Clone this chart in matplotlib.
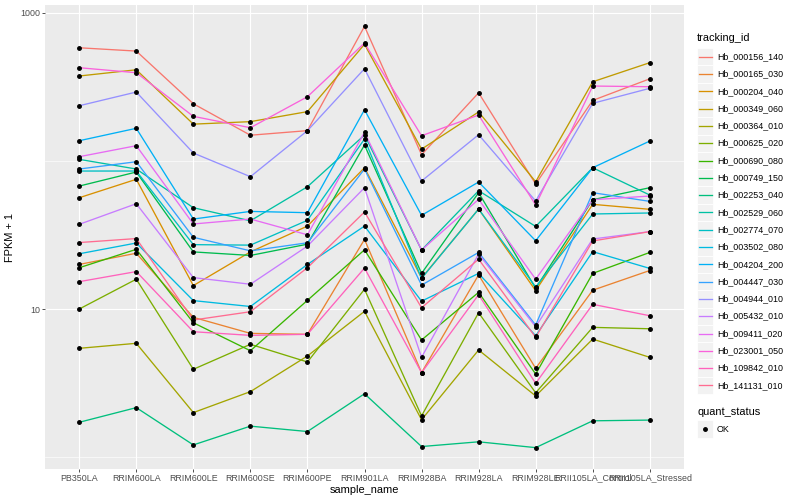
import numpy as np
import matplotlib
matplotlib.use("Agg")
import matplotlib.pyplot as plt
from matplotlib.patches import Rectangle
from matplotlib.lines import Line2D

plt.rcParams["font.family"] = ["Liberation Sans", "DejaVu Sans"]

# Muestras (eje x)
sample_names = ["PB350LA", "RRIM600LA", "RRIM600LE", "RRIM600SE", "RRIM600PE",
                "RRIM901LA", "RRIM928BA", "RRIM928LA", "RRIM928LE",
                "RRII105LA_Control", "RRII105LA_Stressed"]

tracking_ids = ["Hb_000156_140", "Hb_000165_030", "Hb_000204_040", "Hb_000349_060",
                "Hb_000364_010", "Hb_000625_020", "Hb_000690_080", "Hb_000749_150",
                "Hb_002253_040", "Hb_002529_060", "Hb_002774_070", "Hb_003502_080",
                "Hb_004204_200", "Hb_004447_030", "Hb_004944_010", "Hb_005432_010",
                "Hb_009411_020", "Hb_023001_050", "Hb_109842_010", "Hb_141131_010"]

# Paleta de ggplot (hue_pal) para 20 niveles
colores = ["#F8766D", "#EA8331", "#D89000", "#C09B00", "#A3A500", "#7CAE00",
           "#39B600", "#00BB4E", "#00BF7D", "#00C1A3", "#00BFC4", "#00BAE0",
           "#00B0F6", "#35A2FF", "#9590FF", "#C77CFF", "#E76BF3", "#FA62DB",
           "#FF62BC", "#FF6C91"]

# Valores FPKM + 1
hb_000156_140 = [580, 551, 243, 149, 160, 809, 110, 288, 69.8, 256, 358]
hb_000165_030 = [20.0, 23.8, 8.79, 6.85, 6.75, 29.5, 3.72, 17.0, 3.98, 13.4, 18.2]
hb_000204_040 = [56.4, 75.1, 14.4, 24.3, 36.3, 89.9, 16.2, 47.3, 13.3, 50.9, 47.1]
hb_000349_060 = [374, 412, 177, 184, 215, 612, 120, 214, 72.3, 342, 460]
hb_000364_010 = [5.43, 5.87, 2.00, 2.77, 4.82, 9.65, 1.79, 5.29, 2.59, 6.27, 4.72]
hb_000625_020 = [10.0, 15.9, 3.92, 5.78, 4.39, 13.6, 1.90, 9.44, 2.72, 7.52, 7.36]
hb_000690_080 = [19.0, 25.3, 8.08, 5.23, 11.45, 25.1, 6.18, 12.96, 3.64, 17.4, 24.1]
hb_000749_150 = [67.6, 84.1, 24.3, 23.0, 27.4, 128, 17.4, 61.0, 13.8, 54.7, 65.9]
hb_002253_040 = [1.72, 2.16, 1.21, 1.62, 1.49, 2.68, 1.18, 1.27, 1.16, 1.76, 1.78]
hb_002529_060 = [102.4, 88.1, 48.3, 39.4, 66.9, 149.5, 25.0, 62.9, 36.1, 89.9, 58.8]
hb_002774_070 = [85.4, 85.4, 27.2, 27.0, 39.7, 140.4, 16.1, 47.3, 14.1, 43.8, 44.5]
hb_003502_080 = [23.6, 27.9, 11.4, 10.4, 20.0, 36.3, 11.3, 17.4, 6.60, 24.4, 18.8]
hb_004204_200 = [136.8, 165.9, 40.5, 45.6, 44.7, 221.4, 42.9, 72.0, 28.9, 89.9, 136.1]
hb_004447_030 = [88.1, 98.7, 30.5, 24.7, 28.0, 88.1, 14.5, 24.1, 7.80, 61.0, 53.3]
hb_004944_010 = [235.6, 291.5, 113, 78.2, 160, 418.8, 73.1, 150.2, 53.6, 244.6, 308.8]
hb_005432_010 = [37.3, 51.4, 16.3, 14.7, 26.6, 65.9, 4.72, 23.5, 7.60, 29.7, 33.3]
hb_009411_020 = [106.7, 126.6, 37.5, 40.5, 31.7, 155.8, 25.0, 55.0, 15.9, 54.7, 57.9]
hb_023001_050 = [425.5, 393.6, 199.8, 167.4, 271, 624.4, 147.8, 203.9, 50.4, 320, 316.6]
hb_109842_010 = [15.3, 17.9, 7.03, 6.64, 6.75, 18.9, 3.72, 12.5, 3.15, 10.76, 9.01]
hb_141131_010 = [28.1, 29.9, 8.43, 9.59, 19.0, 45.2, 10.2, 21.7, 6.44, 28.8, 33.3]

series = [hb_000156_140, hb_000165_030, hb_000204_040, hb_000349_060, hb_000364_010,
          hb_000625_020, hb_000690_080, hb_000749_150, hb_002253_040, hb_002529_060,
          hb_002774_070, hb_003502_080, hb_004204_200, hb_004447_030, hb_004944_010,
          hb_005432_010, hb_009411_020, hb_023001_050, hb_109842_010, hb_141131_010]

W, H = 800, 500
fig = plt.figure(figsize=(8, 5), dpi=100)
fig.patch.set_facecolor("white")


def fx(px):
    return px / W


def fy(py):
    return 1 - py / H


ax = fig.add_axes([fx(45), fy(468.7), (684 - 45) / W, (468.7 - 5.3) / H])
ax.set_facecolor("#EBEBEB")
for s in ax.spines.values():
    s.set_visible(False)

x = np.arange(len(sample_names))

# Lineas de cada gen
for valores, color in zip(series, colores):
    ax.plot(x, valores, color=color, lw=0.95, zorder=3)

# Puntos encima
for valores in series:
    ax.plot(x, valores, linestyle="none", marker="o", markersize=2.5,
            color="black", zorder=4)

ax.set_yscale("log")
todos = np.log10(np.concatenate([np.array(v, dtype=float) for v in series]))
lo, hi = todos.min(), todos.max()
pad = (hi - lo) * 0.05
ax.set_ylim(10 ** (lo - pad), 10 ** (hi + pad))
ax.set_xlim(-0.6, len(sample_names) - 0.4)

ax.set_yticks([10, 1000])
ax.set_yticklabels(["10", "1000"])
ax.set_yticks([1, 100], minor=True)
ax.yaxis.set_minor_formatter(plt.NullFormatter())
ax.set_xticks(x)
ax.set_xticklabels(sample_names)

ax.grid(True, which="major", color="white", lw=0.85, zorder=0)
ax.grid(True, which="minor", axis="y", color="white", lw=0.45, zorder=0)
ax.set_axisbelow(True)
ax.tick_params(axis="both", which="major", length=2.0, width=0.6, color="#333333",
               labelsize=6.4, labelcolor="#4D4D4D", pad=1.5)
ax.tick_params(axis="y", which="minor", length=0)

ax.set_xlabel("sample_name", fontsize=7.9, labelpad=2)
ax.set_ylabel("FPKM + 1", fontsize=7.9, labelpad=4)

# Leyenda tracking_id
fig.text(fx(697), fy(38), "tracking_id", fontsize=7.9, va="center", ha="left")
paso = 17.3
y0 = 56.7
for i, (tid, color) in enumerate(zip(tracking_ids, colores)):
    yc = y0 + i * paso
    fig.add_artist(Rectangle((fx(697), fy(yc + paso / 2)), 16 / W, paso / H,
                             transform=fig.transFigure, facecolor="#F2F2F2",
                             edgecolor="white", lw=0.6))
    fig.add_artist(Line2D([fx(698.5), fx(711.5)], [fy(yc), fy(yc)],
                          transform=fig.transFigure, color=color, lw=0.95))
    fig.text(fx(717), fy(yc), tid, fontsize=6.4, va="center", ha="left")

# Leyenda quant_status
fig.text(fx(697), fy(412), "quant_status", fontsize=7.9, va="center", ha="left")
fig.add_artist(Rectangle((fx(697), fy(429 + paso / 2)), 16 / W, paso / H,
                         transform=fig.transFigure, facecolor="#F2F2F2",
                         edgecolor="white", lw=0.6))
fig.add_artist(Line2D([fx(705)], [fy(429)], transform=fig.transFigure,
                      marker="o", markersize=2.5, color="black", linestyle="none"))
fig.text(fx(717), fy(429), "OK", fontsize=6.4, va="center", ha="left")

fig.savefig("out.png", dpi=100)
